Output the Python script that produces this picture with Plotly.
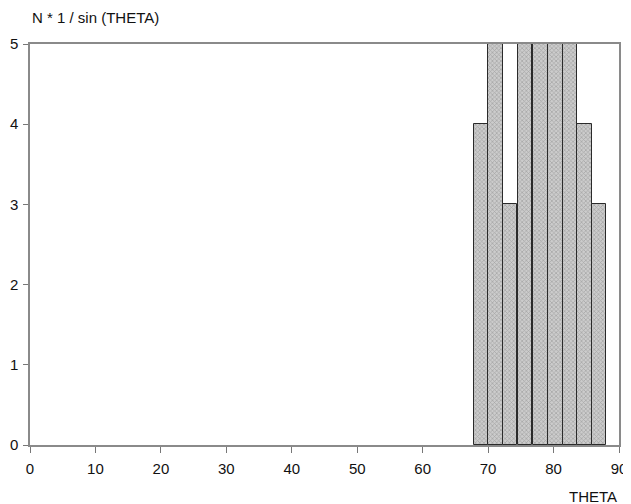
import plotly.graph_objects as go

# Data
bin_centers = [68.9, 71.1, 73.35, 75.65, 77.95, 80.25, 82.5, 84.7, 86.95]
counts = [4, 6.2, 3, 7.5, 8.1, 7.0, 5.8, 4, 3]   # values >5 are clipped by the axis
bin_width = 2.25
x_ticks = [0, 10, 20, 30, 40, 50, 60, 70, 80, 90]
y_ticks = [0, 1, 2, 3, 4, 5]

fig = go.Figure()
fig.add_trace(go.Bar(
    x=bin_centers, y=counts, width=[bin_width] * len(bin_centers),
    marker=dict(color="#bdbdbd",
                line=dict(color="#2a2a2a", width=1),
                pattern=dict(shape="x", size=3, solidity=0.4,
                             fgcolor="#7a7a7a", bgcolor="#cccccc")),
    hoverinfo="x+y",
))

font = dict(family="Liberation Sans, Arial, sans-serif", size=15, color="#111")

# page body has an 8px margin, so the figure is sized/offset to compensate
fig.update_layout(
    width=623, height=496,
    margin=dict(l=22, r=12, t=36, b=59),
    paper_bgcolor="white", plot_bgcolor="white",
    showlegend=False, bargap=0,
    font=font,
    xaxis=dict(range=[0, 90], tickvals=x_ticks, ticks="outside", ticklen=6,
               tickcolor="#777", showgrid=False, zeroline=False, automargin=False,
               showline=True, linecolor="#8a8a8a", linewidth=1.5, mirror=True,
               tickfont=font, ticklabelstandoff=3),
    yaxis=dict(range=[0, 5], tickvals=y_ticks, ticks="outside", ticklen=5,
               tickcolor="#777", showgrid=False, zeroline=False, automargin=False,
               showline=True, linecolor="#8a8a8a", linewidth=1.5, mirror=True,
               tickfont=font, ticklabelstandoff=2),
    annotations=[
        dict(text="N * 1 / sin (THETA)", xref="paper", yref="paper",
             x=0.0, y=1.0, xanchor="left", yanchor="bottom", yshift=16,
             showarrow=False, font=font),
        dict(text="THETA", xref="paper", yref="paper",
             x=1.0, y=0.0, xanchor="right", yanchor="top", yshift=-41,
             showarrow=False, font=font),
    ],
)

fig.write_html("out.html")
